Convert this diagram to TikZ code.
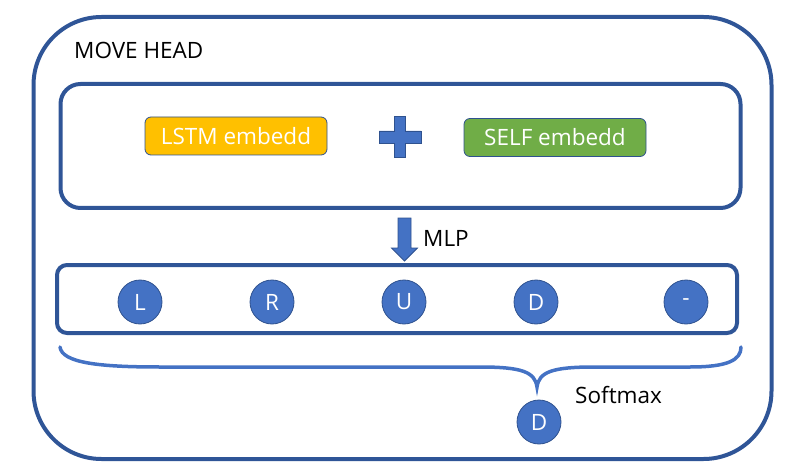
\documentclass[tikz,border=0pt]{standalone}
\usepackage{fontspec}
\setmainfont{Open Sans}
\definecolor{frame}{HTML}{2F5597}
\definecolor{accent}{HTML}{4472C4}
\definecolor{circedge}{HTML}{2F528F}
\definecolor{lstmc}{HTML}{FFC000}
\definecolor{selfc}{HTML}{70AD47}
\tikzset{
  bigbox/.style={draw=frame, line width=4pt, inner sep=0pt},
  embbox/.style={draw=circedge, line width=0.8pt, rounded corners=6pt, text=white, minimum width=182pt, minimum height=38pt, inner sep=0pt},
  tok/.style={circle, fill=accent, draw=circedge, line width=0.8pt, minimum size=44pt, inner sep=0pt, text=white},
  lbl/.style={text=black, inner sep=0pt},
  shapefill/.style={fill=accent, draw=circedge, line width=0.8pt},
  bracestyle/.style={draw=accent, line width=3.5pt, line cap=round}
}
\begin{document}
\begin{tikzpicture}[x=1pt,y=-1pt, font=\fontsize{22.5}{26}\selectfont]
\useasboundingbox (0,0) rectangle (792,473);
% outer frame
\node[bigbox, rounded corners=68pt, minimum width=738pt, minimum height=442pt] (outer) at (402.5,238) {};
\node[lbl, anchor=base west] (title) at (74,59) {MOVE HEAD};
% embedding box
\node[bigbox, rounded corners=20pt, minimum width=680pt, minimum height=124pt] (embed) at (400.5,146) {};
\node[embbox, fill=lstmc] (lstm) at (236,136) {LSTM embedd};
\node[embbox, fill=selfc] (selfe) at (555,137.5) {SELF embedd};
% plus sign
\coordinate (plus) at (400,137);
\path[shapefill] (plus) ++(-21,-6) -- ++(15.5,0) -- ++(0,-14.5) -- ++(11,0) -- ++(0,14.5) -- ++(15.5,0)
  -- ++(0,12) -- ++(-15.5,0) -- ++(0,14.5) -- ++(-11,0) -- ++(0,-14.5) -- ++(-15.5,0) -- cycle;
% MLP arrow
\coordinate (mlptop) at (404.5,218);
\path[shapefill] (mlptop) ++(-6.5,0) -- ++(13,0) -- ++(0,30) -- ++(6.5,0) -- (404.5,261) -- (391.5,248) -- (398,248) -- cycle;
\node[lbl, anchor=base west] (mlp) at (423,246) {MLP};
% token box
\node[bigbox, rounded corners=10pt, minimum width=680pt, minimum height=68pt] (tokens) at (397,299) {};
\node[tok] (tL) at (140,302) {L};
\node[tok] (tR) at (272,302) {R};
\node[tok] (tU) at (404,302) {U};
\node[tok] (tD) at (536,302) {D};
\node[tok] (tN) at (686,302) {-};
% brace
\coordinate (bl) at (60,347);
\coordinate (btip) at (537,387);
\coordinate (br) at (741,347);
\draw[bracestyle] (bl) .. controls (62,363) and (100,367) .. (160,367) -- (480,367)
  .. controls (522,367) and (535,372) .. (btip)
  .. controls (539,372) and (552,367) .. (594,367) -- (690,367)
  .. controls (728,367) and (741,360) .. (br);
\node[lbl, anchor=base west] (softmax) at (575,403) {Softmax};
\node[tok] (out) at (539,422) {D};
\end{tikzpicture}
\end{document}
